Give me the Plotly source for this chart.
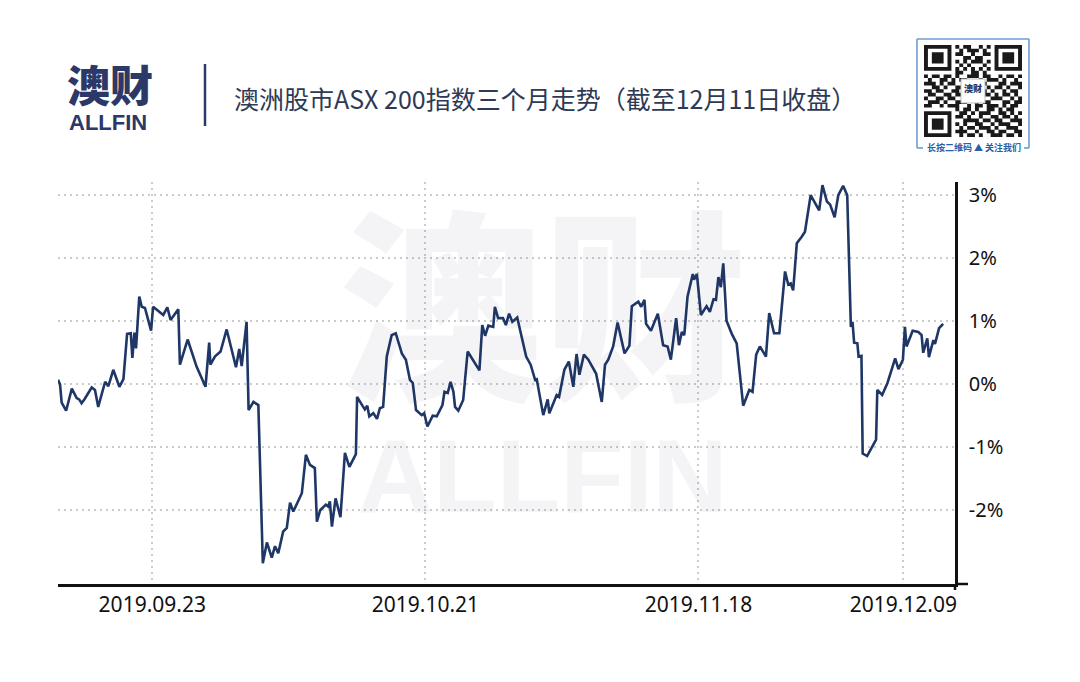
import plotly.graph_objects as go

# ---------------- data ----------------
dates = [
    "2019-09-13 08:00", "2019-09-13 13:00", "2019-09-13 17:00", "2019-09-14 04:00", "2019-09-14 18:00",
    "2019-09-15 06:00", "2019-09-15 12:00", "2019-09-15 18:00", "2019-09-16 02:00", "2019-09-16 19:00",
    "2019-09-17 03:00", "2019-09-17 11:00", "2019-09-18 04:00", "2019-09-18 12:00", "2019-09-19 00:00",
    "2019-09-19 15:00", "2019-09-20 01:00", "2019-09-20 10:00", "2019-09-20 19:00", "2019-09-20 23:00",
    "2019-09-21 04:00", "2019-09-21 08:00", "2019-09-21 16:00", "2019-09-21 22:00", "2019-09-22 06:00",
    "2019-09-22 21:00", "2019-09-23 02:00", "2019-09-23 19:00", "2019-09-24 03:00", "2019-09-24 13:00",
    "2019-09-24 21:00", "2019-09-25 16:00", "2019-09-25 20:00", "2019-09-26 15:00", "2019-09-27 13:00",
    "2019-09-28 11:00", "2019-09-28 20:00", "2019-09-28 23:00", "2019-09-29 10:00", "2019-09-30 00:00",
    "2019-09-30 15:00", "2019-10-01 14:00", "2019-10-01 22:00", "2019-10-02 04:00", "2019-10-02 16:00",
    "2019-10-02 21:00", "2019-10-03 09:00", "2019-10-03 21:00", "2019-10-04 08:00", "2019-10-04 18:00",
    "2019-10-05 06:00", "2019-10-05 14:00", "2019-10-05 22:00", "2019-10-06 10:00", "2019-10-06 19:00",
    "2019-10-07 03:00", "2019-10-07 11:00", "2019-10-08 08:00", "2019-10-08 18:00", "2019-10-09 04:00",
    "2019-10-09 16:00", "2019-10-09 21:00", "2019-10-10 05:00", "2019-10-10 19:00", "2019-10-11 01:00",
    "2019-10-11 05:00", "2019-10-11 10:00", "2019-10-11 19:00", "2019-10-12 07:00", "2019-10-12 18:00",
    "2019-10-13 05:00", "2019-10-13 21:00", "2019-10-14 00:00", "2019-10-14 13:00", "2019-10-14 19:00",
    "2019-10-15 01:00", "2019-10-15 06:00", "2019-10-15 16:00", "2019-10-16 01:00", "2019-10-16 08:00",
    "2019-10-16 16:00", "2019-10-17 01:00", "2019-10-17 13:00", "2019-10-17 23:00", "2019-10-18 14:00",
    "2019-10-19 00:00", "2019-10-19 10:00", "2019-10-19 17:00", "2019-10-20 01:00", "2019-10-20 15:00",
    "2019-10-20 21:00", "2019-10-21 05:00", "2019-10-21 18:00", "2019-10-22 04:00", "2019-10-22 18:00",
    "2019-10-22 23:00", "2019-10-23 07:00", "2019-10-23 14:00", "2019-10-23 21:00", "2019-10-24 01:00",
    "2019-10-24 09:00", "2019-10-24 21:00", "2019-10-25 08:00", "2019-10-26 13:00", "2019-10-26 20:00",
    "2019-10-27 03:00", "2019-10-27 11:00", "2019-10-27 23:00", "2019-10-28 03:00", "2019-10-28 11:00",
    "2019-10-28 23:00", "2019-10-29 06:00", "2019-10-29 14:00", "2019-10-29 22:00", "2019-10-30 10:00",
    "2019-10-30 17:00", "2019-10-31 08:00", "2019-10-31 19:00", "2019-11-01 06:00", "2019-11-01 10:00",
    "2019-11-02 02:00", "2019-11-02 13:00", "2019-11-02 17:00", "2019-11-03 11:00", "2019-11-03 17:00",
    "2019-11-04 06:00", "2019-11-04 17:00", "2019-11-05 04:00", "2019-11-05 12:00", "2019-11-05 19:00",
    "2019-11-06 06:00", "2019-11-06 17:00", "2019-11-07 12:00", "2019-11-08 02:00", "2019-11-08 10:00",
    "2019-11-08 18:00", "2019-11-09 06:00", "2019-11-09 17:00", "2019-11-10 10:00", "2019-11-10 22:00",
    "2019-11-11 04:00", "2019-11-11 20:00", "2019-11-12 03:00", "2019-11-12 11:00", "2019-11-12 15:00",
    "2019-11-13 03:00", "2019-11-13 20:00", "2019-11-14 09:00", "2019-11-14 20:00", "2019-11-15 04:00",
    "2019-11-15 17:00", "2019-11-16 00:00", "2019-11-16 07:00", "2019-11-16 13:00", "2019-11-16 21:00",
    "2019-11-17 10:00", "2019-11-17 13:00", "2019-11-17 20:00", "2019-11-18 06:00", "2019-11-18 20:00",
    "2019-11-19 04:00", "2019-11-19 13:00", "2019-11-19 19:00", "2019-11-20 01:00", "2019-11-20 07:00",
    "2019-11-20 13:00", "2019-11-20 21:00", "2019-11-21 10:00", "2019-11-21 22:00", "2019-11-22 14:00",
    "2019-11-23 05:00", "2019-11-23 13:00", "2019-11-23 22:00", "2019-11-24 07:00", "2019-11-24 22:00",
    "2019-11-25 06:00", "2019-11-25 18:00", "2019-11-26 07:00", "2019-11-26 21:00", "2019-11-27 05:00",
    "2019-11-27 11:00", "2019-11-27 17:00", "2019-11-28 02:00", "2019-11-28 14:00", "2019-11-28 22:00",
    "2019-11-29 12:00", "2019-11-30 09:00", "2019-11-30 17:00", "2019-12-01 04:00", "2019-12-01 12:00",
    "2019-12-01 23:00", "2019-12-02 08:00", "2019-12-02 20:00", "2019-12-03 06:00", "2019-12-03 15:00",
    "2019-12-03 19:00", "2019-12-03 23:00", "2019-12-04 07:00", "2019-12-04 10:00", "2019-12-04 17:00",
    "2019-12-04 20:00", "2019-12-05 07:00", "2019-12-06 05:00", "2019-12-06 08:00", "2019-12-06 20:00",
    "2019-12-07 09:00", "2019-12-08 04:00", "2019-12-08 12:00", "2019-12-08 23:00", "2019-12-09 04:00",
    "2019-12-09 08:00", "2019-12-09 23:00", "2019-12-10 13:00", "2019-12-10 21:00", "2019-12-11 01:00",
    "2019-12-11 11:00", "2019-12-11 15:00", "2019-12-12 02:00", "2019-12-12 06:00", "2019-12-12 16:00",
    "2019-12-13 02:00",
]

pct_change = [
    0.07, 0.00, -0.29, -0.42, -0.07, -0.22, -0.24, -0.30, -0.23, -0.05,
    -0.09, -0.36, 0.04, -0.03, 0.23, -0.04, 0.08, 0.80, 0.81, 0.42,
    0.82, 0.57, 1.39, 1.23, 1.21, 0.85, 1.23, 1.15, 1.10, 1.22,
    1.02, 1.19, 0.31, 0.71, 0.28, -0.04, 0.66, 0.31, 0.44, 0.52,
    0.87, 0.27, 0.56, 0.29, 0.99, -0.41, -0.28, -0.33, -2.84, -2.51,
    -2.75, -2.57, -2.68, -2.34, -2.28, -1.88, -2.02, -1.73, -1.12, -1.28,
    -1.33, -2.18, -2.00, -1.91, -1.94, -1.86, -2.26, -1.81, -2.11, -1.09,
    -1.31, -1.11, -0.20, -0.34, -0.40, -0.34, -0.51, -0.46, -0.55, -0.38,
    -0.36, 0.44, 0.78, 0.81, 0.49, 0.39, 0.07, 0.02, -0.41, -0.49,
    -0.46, -0.67, -0.50, -0.51, -0.33, -0.12, -0.14, 0.04, -0.12, -0.36,
    -0.42, -0.25, 0.52, 0.22, 0.94, 0.77, 0.93, 0.91, 1.23, 1.05,
    1.05, 0.94, 1.12, 0.99, 1.06, 0.86, 0.44, 0.31, 0.07, 0.08,
    -0.49, -0.24, -0.46, -0.17, -0.20, 0.23, 0.36, -0.04, 0.48, 0.15,
    0.47, 0.39, 0.17, -0.28, 0.31, 0.39, 0.60, 0.98, 0.49, 0.61,
    1.24, 1.31, 1.23, 1.34, 0.96, 0.85, 1.12, 0.62, 0.60, 0.39,
    1.05, 0.62, 0.83, 0.78, 1.39, 1.75, 1.66, 1.75, 1.10, 1.24,
    1.15, 1.35, 1.34, 1.70, 1.54, 1.92, 1.01, 0.80, 0.65, -0.34,
    -0.09, -0.12, 0.47, 0.60, 0.44, 1.13, 0.81, 0.81, 1.79, 1.58,
    1.60, 1.49, 2.24, 2.34, 2.42, 3.00, 2.76, 3.16, 2.90, 2.85,
    2.65, 3.00, 3.15, 3.00, 0.91, 0.99, 0.66, 0.65, 0.44, 0.45,
    -1.10, -1.14, -0.88, -0.09, -0.17, 0.02, 0.41, 0.24, 0.39, 0.91,
    0.60, 0.85, 0.83, 0.78, 0.50, 0.73, 0.43, 0.70, 0.64, 0.89,
    0.96,
]

x_tick_dates = ["2019-09-23", "2019-10-21", "2019-11-18", "2019-12-09"]
x_tick_labels = ["2019.09.23", "2019.10.21", "2019.11.18", "2019.12.09"]
y_tick_vals = [-2, -1, 0, 1, 2, 3]
y_tick_labels = ["-2%", "-1%", "0%", "1%", "2%", "3%"]

title_text = "澳洲股市ASX 200指数三个月走势（截至12月11日收盘）"

# ---------------- geometry helpers (decorations only) ----------------
W, H = 1080, 682
ML, MR, MT, MB = 58, 125, 182, 98
PW, PH = W - ML - MR, H - MT - MB


def px(X):
    return (X - ML) / PW


def py(Y):
    return 1 - (Y - MT) / PH


NAVY = "#1f3766"
LOGO = "#2b3868"

fig = go.Figure()
fig.add_trace(go.Scatter(
    x=dates, y=pct_change, mode="lines",
    line=dict(color=NAVY, width=2.6),
    hoverinfo="skip", showlegend=False,
))

shapes = []
annotations = []

# watermark
wm_col = "rgba(40,40,100,0.05)"
annotations.append(dict(text="澳财", x=px(543), y=py(296), xref="paper", yref="paper",
                        xanchor="center", yanchor="middle", showarrow=False,
                        font=dict(family="Noto Sans CJK SC", size=204, color=wm_col, weight=900)))
annotations.append(dict(text="ALLFIN", x=px(543), y=py(476), xref="paper", yref="paper",
                        xanchor="center", yanchor="middle", showarrow=False,
                        font=dict(family="Liberation Sans", size=104, color=wm_col, weight="bold")))

# axis stubs
shapes.append(dict(type="line", xref="paper", yref="paper", x0=1, x1=px(968), y0=0, y1=0,
                   line=dict(color="#111", width=2.5)))
shapes.append(dict(type="line", xref="paper", yref="paper", x0=1, x1=1, y0=0, y1=py(590),
                   line=dict(color="#111", width=2.5)))

# header: logo, divider, title
annotations.append(dict(text="澳财", x=px(65), y=py(83), xref="paper", yref="paper",
                        xanchor="left", yanchor="middle", showarrow=False,
                        font=dict(family="Noto Sans CJK SC", size=43, color=LOGO, weight=900)))
annotations.append(dict(text="ALLFIN", x=px(67), y=py(122), xref="paper", yref="paper",
                        xanchor="left", yanchor="middle", showarrow=False,
                        font=dict(family="Liberation Sans", size=22, color=LOGO, weight="bold")))
shapes.append(dict(type="line", xref="paper", yref="paper", x0=px(205), x1=px(205),
                   y0=py(64), y1=py(126), line=dict(color=LOGO, width=2.5)))
annotations.append(dict(text=title_text, x=px(232), y=py(98), xref="paper", yref="paper",
                        xanchor="left", yanchor="middle", showarrow=False,
                        font=dict(family="Noto Sans CJK SC", size=25, color="#2e3a55")))

# QR code block (decorative)
qr_rows = [
    "1111111" + "0" + "101100101" + "0" + "1111111",
    "1000001" + "0" + "010111010" + "0" + "1000001",
    "1011101" + "0" + "110010011" + "0" + "1011101",
    "1011101" + "0" + "001101100" + "0" + "1011101",
    "1011101" + "0" + "101011101" + "0" + "1011101",
    "1000001" + "0" + "010100010" + "0" + "1000001",
    "1111111" + "0" + "101010101" + "0" + "1111111",
    "00000000" + "110011010" + "00000000",
    "1011011010011101100101101",
    "0100110101100010111010010",
    "1110101100111011000110111",
    "0011010011011100101101001",
    "1101100110100111010010110",
    "0110011011101001101011010",
    "1001101100011010011100101",
    "0111010011100101100011011",
    "1100101110010110111010110",
    "00000000" + "10110100110101100",
    "1111111" + "0" + "01101011100110101",
    "1000001" + "0" + "11010010011011010",
    "1011101" + "0" + "00111101101100111",
    "1011101" + "0" + "10100110010111001",
    "1011101" + "0" + "01011011101001110",
    "1000001" + "0" + "11100100110110011",
    "1111111" + "0" + "01011010011101101",
]
QX0, QY0, QX1, QY1 = 924, 45, 1022, 137
n = len(qr_rows)
cw, ch = (QX1 - QX0) / 25, (QY1 - QY0) / n
parts = []
for r, row in enumerate(qr_rows):
    for c, b in enumerate(row[:25]):
        if b == "1":
            x0, x1 = px(QX0 + c * cw), px(QX0 + (c + 1) * cw)
            y0, y1 = py(QY0 + r * ch), py(QY0 + (r + 1) * ch)
            parts.append(f"M{x0:.5f},{y0:.5f}H{x1:.5f}V{y1:.5f}H{x0:.5f}Z")
shapes.append(dict(type="path", xref="paper", yref="paper", path="".join(parts),
                   fillcolor="#1a1a1a", line=dict(width=0)))
# centre logo box
shapes.append(dict(type="rect", xref="paper", yref="paper", x0=px(961), x1=px(985),
                   y0=py(79), y1=py(103), fillcolor="white", line=dict(color="#bbb", width=1)))
annotations.append(dict(text="澳财", x=px(973), y=py(89), xref="paper", yref="paper",
                        xanchor="center", yanchor="middle", showarrow=False,
                        font=dict(family="Noto Sans CJK SC", size=9, color=LOGO, weight=900)))
# frame
fc = "#6f9bd3"
for (a, b, c, d) in [(917, 39, 1029, 39), (917, 39, 917, 148), (1029, 39, 1029, 148),
                     (917, 148, 923, 148), (1024, 148, 1029, 148)]:
    shapes.append(dict(type="line", xref="paper", yref="paper", x0=px(a), x1=px(c),
                       y0=py(b), y1=py(d), line=dict(color=fc, width=1.6)))
annotations.append(dict(text="长按二维码 ▲ 关注我们", x=px(974), y=py(147), xref="paper", yref="paper",
                        xanchor="center", yanchor="middle", showarrow=False,
                        font=dict(family="Noto Sans CJK SC", size=9, color="#2a5ea8", weight="bold")))

grid = dict(showgrid=True, gridcolor="#cbcbcb", griddash="2px,4px", gridwidth=1.6, zeroline=False)

fig.update_layout(
    width=W, height=H,
    margin=dict(l=ML, r=MR, t=MT, b=MB, pad=0),
    paper_bgcolor="white", plot_bgcolor="white",
    showlegend=False,
    xaxis=dict(type="date", range=["2019-09-13 08:00", "2019-12-14 07:12"],
               tickvals=x_tick_dates, ticktext=x_tick_labels,
               showline=True, linecolor="#111", linewidth=2.5, ticks="",
               tickfont=dict(family="Noto Sans", size=21, color="#111"),
               ticklabelstandoff=0, **grid),
    yaxis=dict(side="right", range=[-3.17, 3.21],
               tickvals=y_tick_vals, ticktext=y_tick_labels,
               showline=True, linecolor="#111", linewidth=2.5, ticks="",
               tickfont=dict(family="Noto Sans", size=20, color="#111"),
               ticklabelstandoff=7, **grid),
    shapes=shapes,
    annotations=annotations,
)

fig.write_html("out.html")
